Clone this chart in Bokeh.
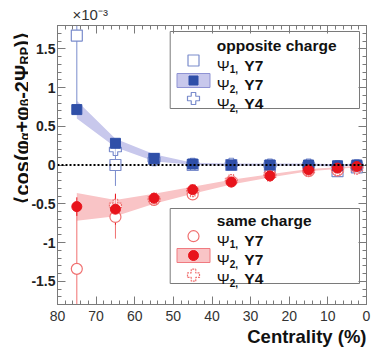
import math
from bokeh.plotting import figure
from bokeh.layouts import row
from bokeh.models import Range1d, FixedTicker, LinearAxis, Span, Title
from bokeh.embed import file_html
from bokeh.resources import INLINE
from bokeh.core.properties import value

# ---------------- data (values in units of 1e-3) ----------------
cent = [75, 65, 55, 45, 35, 25, 15, 7.5, 2.5]
cent_y4 = [65, 55, 45, 35, 25, 15, 7.5, 2.5]

# opposite charge
os_psi2_y7 = [0.715, 0.28, 0.083, 0.013, 0.0, 0.0, 0.0, -0.01, 0.0]
os_psi2_y7_err = [0.04, 0.04, 0.06, 0.03, 0.02, 0.02, 0.02, 0.02, 0.02]
os_band_lo = [0.60, 0.23, 0.05, 0.0, -0.01, -0.01, -0.01, -0.02, -0.01]
os_band_hi = [0.83, 0.34, 0.14, 0.03, 0.02, 0.02, 0.02, 0.01, 0.02]
os_psi1_y7 = [1.67, 0.0, 0.08, 0.0, 0.0, -0.01, -0.03, -0.08, -0.03]
os_psi1_y7_err = [0.95, 0.27, 0.06, 0.04, 0.03, 0.03, 0.03, 0.04, 0.05]
os_psi2_y4 = [0.2, 0.07, 0.01, 0.01, 0.0, 0.0, -0.02, -0.01]
os_psi2_y4_err = [0.06, 0.05, 0.03, 0.03, 0.03, 0.03, 0.04, 0.05]

# same charge
ss_psi2_y7 = [-0.537, -0.57, -0.43, -0.32, -0.22, -0.14, -0.065, -0.04, -0.02]
ss_psi2_y7_err = [0.12, 0.2, 0.07, 0.04, 0.03, 0.03, 0.02, 0.02, 0.02]
ss_band_lo = [-0.72, -0.66, -0.50, -0.37, -0.25, -0.16, -0.08, -0.05, -0.03]
ss_band_hi = [-0.36, -0.45, -0.37, -0.28, -0.19, -0.12, -0.05, -0.03, -0.01]
ss_psi1_y7 = [-1.34, -0.67, -0.45, -0.38, -0.21, -0.12, -0.08, -0.07, -0.03]
ss_psi1_y7_err = [0.8, 0.28, 0.06, 0.04, 0.03, 0.03, 0.03, 0.04, 0.05]
ss_psi2_y4 = [-0.52, -0.44, -0.33, -0.2, -0.13, -0.07, -0.06, -0.04]
ss_psi2_y4_err = [0.06, 0.05, 0.03, 0.03, 0.03, 0.03, 0.04, 0.05]

x_tick_vals = [80, 70, 60, 50, 40, 30, 20, 10, 0]
x_tick_labels = ["80", "70", "60", "50", "40", "30", "20", "10", "0"]
y_tick_vals = [-1.5, -1.0, -0.5, 0.0, 0.5, 1.0, 1.5]
y_tick_labels = ["-1.5", "-1", "-0.5", "0", "0.5", "1", "1.5"]

x_title = "Centrality (%)"
multiplier = "×10⁻³"
legend_titles = ["opposite charge", "same charge"]
legend_psi_sub = ["1,", "2,", "2,"]
legend_tail = ["Y7", "Y7", "Y4"]
# y title pieces: (text, is_subscript, advance in px)
y_title_pieces = [("⟨cos(φ", False, 63.3), ("α", True, 7.8), ("+φ", False, 26.1), ("β", True, 7.5),
                  ("-2Ψ", False, 34.4), ("RP", True, 17.4), (")⟩", False, 14.4)]

# ---------------- style ----------------
FONT = "Liberation Sans"
BLUE = "#2f4fa8"
BLUE_L = "#7a8ccc"
BLUE_BAND = "#c8c8ec"
RED = "#e8141c"
RED_L = "#f07070"
RED_BAND = "#f9c4c6"
AX = "#7a7a7a"
TXT = "#111111"

TOTAL_W, TOTAL_H = 374, 348
LW = 28                      # width of the strip holding the y title
BL, BT, BR, BB = 54 - LW, 22, 11, 47
FW, FH = TOTAL_W - LW - BL - BR, TOTAL_H - BT - BB
X0, X1 = 80, 0
Y0, Y1 = -1.8, 1.8
XS = FW / (X0 - X1)
YS = FH / (Y1 - Y0)


def dx(fx):  # frame pixel (from left) -> data x
    return X0 - fx / XS


def dy(fy):  # frame pixel (from top) -> data y
    return Y1 - fy / YS


p = figure(frame_width=FW, frame_height=FH, x_range=Range1d(X0, X1), y_range=Range1d(Y0, Y1),
           output_backend="svg", toolbar_location=None,
           min_border_left=BL, min_border_top=BT, min_border_right=BR, min_border_bottom=BB,
           x_axis_location=None, y_axis_location=None)
p.xgrid.visible = False
p.ygrid.visible = False
p.outline_line_color = AX
p.outline_line_width = 1
p.background_fill_color = "white"
p.border_fill_color = "white"

x_minor = [v * 2 for v in range(0, 41)]
y_minor = [round(-1.8 + 0.1 * i, 2) for i in range(0, 37)]


def make_axis(kind, labels_on):
    if kind == "x":
        ax = LinearAxis(ticker=FixedTicker(ticks=x_tick_vals, minor_ticks=x_minor))
        ax.major_label_overrides = {float(v): s for v, s in zip(x_tick_vals, x_tick_labels)}
    else:
        ax = LinearAxis(ticker=FixedTicker(ticks=y_tick_vals, minor_ticks=y_minor))
        ax.major_label_overrides = {float(v): s for v, s in zip(y_tick_vals, y_tick_labels)}
    ax.major_tick_in = 8
    ax.major_tick_out = 0
    ax.minor_tick_in = 4
    ax.minor_tick_out = 0
    ax.major_tick_line_color = AX
    ax.minor_tick_line_color = AX
    ax.axis_line_color = AX
    ax.major_label_text_font = FONT
    if labels_on:
        if kind == "x":
            ax.major_label_text_font_size = "14px"
            ax.major_label_text_color = "#333333"
            ax.major_label_standoff = 6
        else:
            ax.major_label_text_font_size = "14px"
            ax.major_label_text_font_style = "bold"
            ax.major_label_text_color = "#222222"
            ax.major_label_standoff = 2
    else:
        ax.major_label_text_font_size = "0px"
        ax.major_label_standoff = 0
    return ax


p.add_layout(make_axis("x", True), "below")
p.add_layout(make_axis("x", False), "above")
p.add_layout(make_axis("y", True), "left")
p.add_layout(make_axis("y", False), "right")

p.add_layout(Title(text=x_title, align="right", text_font=FONT, text_font_style="bold",
                   text_font_size="18.5px", text_color=TXT, standoff=0), "below")
p.add_layout(Title(text=multiplier, align="left", text_font=FONT, text_font_style="normal",
                   text_font_size="15px", text_color="#333333", standoff=6, offset=15), "above")

# ---------------- bands ----------------
p.varea(x=cent, y1=os_band_lo, y2=os_band_hi, fill_color=BLUE_BAND)
p.varea(x=cent, y1=ss_band_lo, y2=ss_band_hi, fill_color=RED_BAND)

# zero line
p.add_layout(Span(location=0, dimension="width", line_color="black", line_dash="2 2", line_width=2))


def errbars(xs, ys, es, color):
    p.segment(x0=xs, y0=[y - e for y, e in zip(ys, es)], x1=xs, y1=[y + e for y, e in zip(ys, es)],
              line_color=color, line_width=1)


errbars(cent, os_psi1_y7, os_psi1_y7_err, BLUE_L)
errbars(cent, ss_psi1_y7, ss_psi1_y7_err, RED_L)
errbars(cent_y4, os_psi2_y4, os_psi2_y4_err, BLUE_L)
errbars(cent_y4, ss_psi2_y4, ss_psi2_y4_err, RED_L)
errbars(cent, os_psi2_y7, os_psi2_y7_err, BLUE)
errbars(cent, ss_psi2_y7, ss_psi2_y7_err, RED)

# open markers
p.scatter(cent, os_psi1_y7, marker="square", size=11, fill_color="white", line_color=BLUE_L, line_width=1.2)
p.scatter(cent, ss_psi1_y7, marker="circle", size=11, fill_color="white", line_color=RED_L, line_width=1.2)
p.scatter(cent_y4, os_psi2_y4, marker="plus", size=12, fill_color="white", fill_alpha=0.6,
          line_color=BLUE_L, line_width=1.2)
p.scatter(cent_y4, ss_psi2_y4, marker="plus", size=12, fill_color="white", fill_alpha=0.6,
          line_color=RED_L, line_width=1.2, line_dash="2 1")

# filled markers
p.scatter(cent, os_psi2_y7, marker="square", size=10, fill_color=BLUE, line_color=BLUE)
p.scatter(cent, ss_psi2_y7, marker="circle", size=10, fill_color=RED, line_color=RED)

# ---------------- legends (positions in frame pixels) ----------------
LEG = [
    dict(top=6, bottom=83, title_b=20, rows=[39.7, 59, 78], c=[35, 55, 73],
         col=BLUE, col_l=BLUE_L, band=BLUE_BAND, band_line="#8f93d4", filled="square", open="square", dash="solid"),
    dict(top=183, bottom=258, title_b=195, rows=[214.7, 234, 253], c=[210.7, 230, 249.7],
         col=RED, col_l=RED_L, band=RED_BAND, band_line="#f07a80", filled="circle", open="circle", dash="2 1"),
]
box_l, box_r = 112.7, 302
sym_x = 136
txt_x = 159.3
for i, lg in enumerate(LEG):
    p.quad(left=[dx(box_l)], right=[dx(box_r)], top=[dy(lg["top"])], bottom=[dy(lg["bottom"])],
           fill_color="white", line_color=AX, line_width=1)
    p.text(x=[dx(txt_x)], y=[dy(lg["title_b"])], text=[legend_titles[i]], text_font=value(FONT),
           text_font_style="bold", text_font_size="15.5px", text_baseline="alphabetic", text_color=TXT)
    p.scatter([dx(sym_x)], [dy(lg["c"][0])], marker=lg["open"], size=11, fill_color="white",
              line_color=lg["col_l"], line_width=1.2)
    p.quad(left=[dx(sym_x - 16.5)], right=[dx(sym_x + 16.5)], top=[dy(lg["c"][1] - 7)], bottom=[dy(lg["c"][1] + 7)],
           fill_color=lg["band"], line_color=lg["band_line"], line_width=1)
    p.scatter([dx(sym_x)], [dy(lg["c"][1])], marker=lg["filled"], size=9 if lg["filled"] == "square" else 10,
              fill_color=lg["col"], line_color=lg["col"])
    p.scatter([dx(sym_x)], [dy(lg["c"][2])], marker="plus", size=12, fill_color="white",
              line_color=lg["col_l"], line_width=1.2, line_dash=lg["dash"])
    for r in range(3):
        yy = [dy(lg["rows"][r])]
        p.text(x=[dx(txt_x)], y=yy, text=["Ψ"], text_font=value(FONT), text_font_size="15.5px",
               text_baseline="alphabetic", text_color=TXT)
        p.text(x=[dx(txt_x)], y=yy, text=[legend_psi_sub[r]], text_font=value(FONT), text_font_size="10px",
               text_font_style="bold", text_baseline="alphabetic", text_color=TXT, x_offset=13, y_offset=4)
        p.text(x=[dx(txt_x)], y=yy, text=[legend_tail[r]], text_font=value(FONT), text_font_size="15.5px",
               text_font_style="bold", text_baseline="alphabetic", text_color=TXT, x_offset=27.5)

# ---------------- y title strip ----------------
q = figure(frame_width=LW, frame_height=TOTAL_H, x_range=Range1d(0, LW), y_range=Range1d(0, TOTAL_H),
           output_backend="svg", toolbar_location=None, min_border=0,
           x_axis_location=None, y_axis_location=None)
q.xgrid.visible = False
q.ygrid.visible = False
q.outline_line_color = None
q.border_fill_color = "white"
q.background_fill_color = "white"

base_x = 21.0
pos = TOTAL_H - 178.0
for txt, sub, adv in y_title_pieces:
    q.text(x=[base_x + (3.5 if sub else 0)], y=[pos], text=[txt], angle=math.pi / 2,
           text_font=value(FONT), text_font_style="bold",
           text_font_size="12.5px" if sub else "20px",
           text_align="left", text_baseline="alphabetic", text_color=TXT)
    pos += adv

layout = row(q, p)
open("out.html", "w").write(file_html(layout, INLINE))
